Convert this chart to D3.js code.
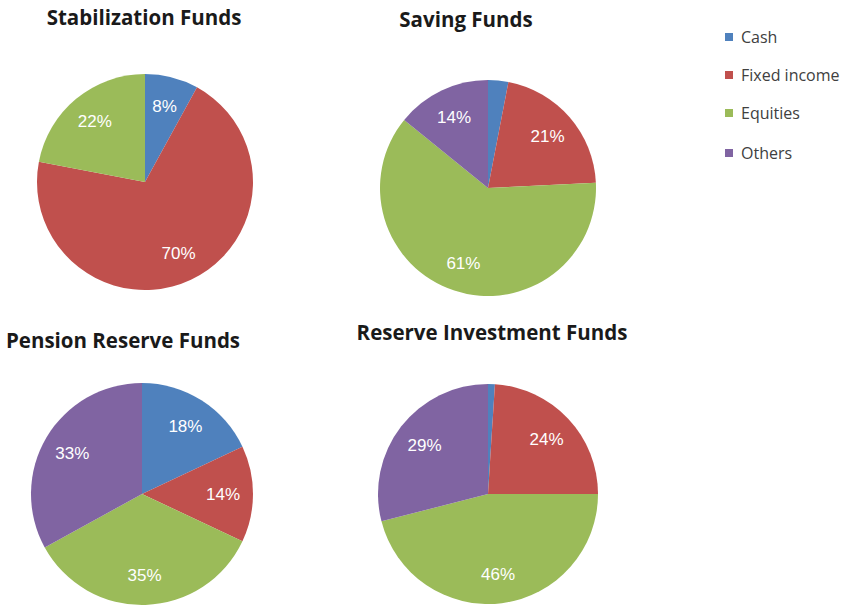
<!DOCTYPE html>
<html><head><meta charset="utf-8">
<script src="https://cdn.jsdelivr.net/npm/d3@7"></script>
<style>body{margin:0;background:#fff}</style>
</head><body>
<svg id="c" width="845" height="607"></svg>
<script>
const categories = ["Cash", "Fixed income", "Equities", "Others"];
const colors = ["#4F81BD", "#C0504D", "#9BBB59", "#8064A2"];
const titles = ["Stabilization Funds", "Saving Funds", "Pension Reserve Funds", "Reserve Investment Funds"];
const stabilization = [8, 70, 22, 0];
const saving = [3, 21, 61, 14];
const pension = [18, 14, 35, 33];
const reserveInvestment = [1, 24, 46, 29];
const labels = [
  ["8%", "70%", "22%", ""],
  ["", "21%", "61%", "14%"],
  ["18%", "14%", "35%", "33%"],
  ["", "24%", "46%", "29%"]
];
const seriesList = [stabilization, saving, pension, reserveInvestment];

const layout = [
  {cx: 145, cy: 182, r: 108, tx: 144, ty: 25},
  {cx: 488, cy: 188, r: 108, tx: 466, ty: 27},
  {cx: 142, cy: 494, r: 111, tx: 123, ty: 348},
  {cx: 488, cy: 494, r: 110, tx: 492, ty: 340}
];

const svg = d3.select("#c");
const pie = d3.pie().sort(null).value(d => d);

seriesList.forEach((vals, i) => {
  const L = layout[i];
  const g = svg.append("g").attr("transform", `translate(${L.cx},${L.cy})`);
  const arc = d3.arc().innerRadius(0).outerRadius(L.r);
  const lab = d3.arc().innerRadius(L.r * 0.73).outerRadius(L.r * 0.73);
  const arcs = pie(vals);
  g.selectAll("path").data(arcs).join("path")
    .attr("d", arc).attr("fill", (d, j) => colors[j]);
  g.selectAll("text").data(arcs).join("text")
    .attr("transform", d => `translate(${lab.centroid(d)})`)
    .attr("text-anchor", "middle").attr("dy", "0.36em")
    .attr("fill", "#fff").attr("font-family", "Liberation Sans, Arial, sans-serif")
    .attr("font-size", 17)
    .text((d, j) => labels[i][j]);
  svg.append("text").attr("x", L.tx).attr("y", L.ty)
    .attr("text-anchor", "middle").attr("font-family", "Open Sans, sans-serif")
    .attr("font-weight", "bold").attr("font-size", 20.5).attr("fill", "#1a1a1a")
    .text(titles[i]);
});

const leg = svg.append("g");
categories.forEach((c, j) => {
  const y = [37, 75, 113, 153][j];
  leg.append("rect").attr("x", 725).attr("y", y - 4).attr("width", 8).attr("height", 8).attr("fill", colors[j]);
  leg.append("text").attr("x", 741).attr("y", y).attr("dy", "0.35em")
    .attr("font-family", "Open Sans, sans-serif").attr("font-size", 16).attr("fill", "#404040").text(c);
});
</script>
</body></html>
